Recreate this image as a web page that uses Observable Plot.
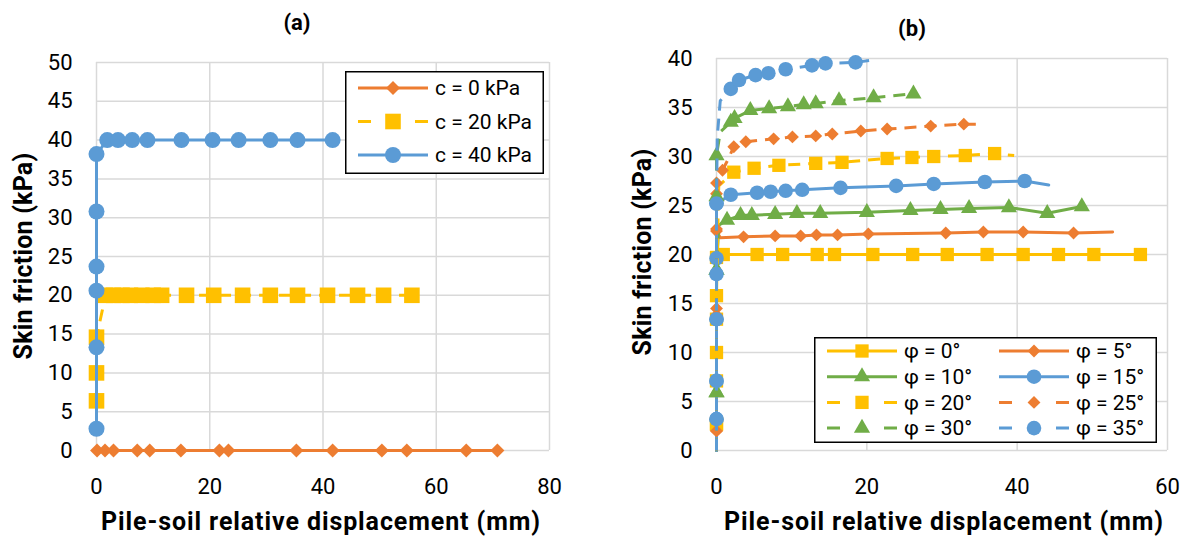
<!DOCTYPE html>
<html><head><meta charset="utf-8">
<script src="https://cdn.jsdelivr.net/npm/d3@7"></script>
<script src="https://cdn.jsdelivr.net/npm/@observablehq/plot@0.6"></script>
<style>
body{margin:0;background:#fff;}
#root{position:relative;width:1186px;height:537px;overflow:hidden;font-family:Roboto,'Liberation Sans',sans-serif;color:#000;}
.abs{position:absolute;}
.ctr{position:absolute;transform:translate(-50%,-50%);white-space:nowrap;}
.title{font-weight:bold;font-size:22px;}
.axt{font-weight:bold;font-size:25px;letter-spacing:0.9px;}
.ayt{font-weight:bold;font-size:25px;letter-spacing:0.2px;}
</style></head><body><div id="root"></div>
<script>
const FONT = "Roboto, 'Liberation Sans', sans-serif";

// ---------------- Panel (a) data ----------------
const aTitle = "(a)";
const aXTicks = [0, 20, 40, 60, 80];
const aYTicks = [0, 5, 10, 15, 20, 25, 30, 35, 40, 45, 50];
const aNames = ["c = 0 kPa", "c = 20 kPa", "c = 40 kPa"];
const aC0X = [0.1, 1.5, 3.0, 7.2, 9.4, 14.9, 21.7, 23.3, 35.3, 41.7, 50.4, 54.8, 65.3, 70.8];
const aC0Y = [0, 0, 0, 0, 0, 0, 0, 0, 0, 0, 0, 0, 0, 0];
const aC20X = [0, 0, 0, 1.6, 3.0, 4.5, 6.0, 8.0, 10.0, 11.5, 15.9, 20.7, 25.8, 30.7, 35.5, 40.8, 46.1, 50.7, 55.7];
const aC20Y = [6.4, 10.0, 14.6, 20, 20, 20, 20, 20, 20, 20, 20, 20, 20, 20, 20, 20, 20, 20, 20];
const aC40X = [0, 0, 0, 0, 0, 0, 1.9, 3.8, 6.3, 9.0, 15.0, 20.5, 25.1, 30.7, 35.5, 41.7];
const aC40Y = [2.8, 13.3, 20.6, 23.7, 30.8, 38.2, 40, 40, 40, 40, 40, 40, 40, 40, 40, 40];

// ---------------- Panel (b) data ----------------
const bTitle = "(b)";
const bXTicks = [0, 20, 40, 60];
const bYTicks = [0, 5, 10, 15, 20, 25, 30, 35, 40];
const bNames = ["φ = 0°", "φ = 5°", "φ = 10°", "φ = 15°", "φ = 20°", "φ = 25°", "φ = 30°", "φ = 35°"];
// m: 1 = point carries a marker, 0 = line vertex only
const bP0X = [0, 0, 0, 0, 0, 0.9, 5.4, 8.8, 13.4, 15.7, 20.8, 26.1, 30.7, 36.0, 40.8, 45.5, 50.2, 56.4];
const bP0Y = [0, 2.7, 7.1, 13.4, 19.7, 20, 20, 20, 20, 20, 20, 20, 20, 20, 20, 20, 20, 20];
const bP0M = [0, 1, 1, 1, 1, 1, 1, 1, 1, 1, 1, 1, 1, 1, 1, 1, 1, 1];
const bP5X = [0, 0, 0, 0, 0.5, 3.6, 7.8, 11.2, 13.3, 16.1, 20.2, 30.5, 35.5, 40.8, 47.5, 52.7];
const bP5Y = [0, 2.0, 14.5, 22.4, 21.7, 21.8, 21.9, 21.9, 22.0, 22.0, 22.1, 22.2, 22.3, 22.3, 22.2, 22.3];
const bP5M = [0, 1, 1, 1, 0, 1, 1, 1, 1, 1, 1, 1, 1, 1, 1, 0];
const bP10X = [0, 0, 0, 0.3, 1.4, 3.2, 4.7, 7.8, 10.7, 13.8, 20.0, 25.8, 29.8, 33.6, 38.9, 44.0, 48.6];
const bP10Y = [0, 5.9, 18.4, 23.0, 23.5, 24.0, 24.0, 24.1, 24.2, 24.2, 24.3, 24.5, 24.6, 24.7, 24.8, 24.2, 24.9];
const bP10M = [0, 1, 1, 0, 1, 1, 1, 1, 1, 1, 1, 1, 1, 1, 1, 1, 1];
const bP15X = [0, 0, 0, 0, 0, 0, 1.9, 5.4, 7.2, 9.2, 11.4, 16.5, 23.9, 28.9, 35.7, 41.0, 44.2];
const bP15Y = [0, 3.2, 7.1, 13.4, 19.6, 25.2, 26.1, 26.3, 26.4, 26.5, 26.6, 26.8, 27.0, 27.2, 27.4, 27.5, 27.1];
const bP15M = [0, 1, 1, 1, 1, 1, 1, 1, 1, 1, 1, 1, 1, 1, 1, 1, 0];
const bP20X = [0, 0, 0, 0, 0.3, 2.3, 5.0, 8.3, 13.2, 16.7, 22.7, 26.0, 28.9, 33.1, 37.0, 39.6];
const bP20Y = [0, 2.7, 10.0, 15.8, 27.0, 28.4, 28.8, 29.1, 29.3, 29.4, 29.8, 29.9, 30.0, 30.1, 30.3, 30.1];
const bP20M = [0, 1, 1, 1, 0, 1, 1, 1, 1, 1, 1, 1, 1, 1, 1, 0];
const bP25X = [0, 0, 0, 0, 0, 0, 0.8, 1.6, 2.3, 3.9, 7.6, 10.1, 13.2, 15.4, 19.2, 22.7, 28.5, 32.9, 34.5];
const bP25Y = [0, 2.0, 13.8, 22.6, 26.2, 27.3, 28.6, 29.8, 31.0, 31.5, 31.8, 32.0, 32.1, 32.3, 32.6, 32.8, 33.1, 33.3, 33.3];
const bP25M = [0, 1, 1, 1, 1, 1, 1, 0, 1, 1, 1, 1, 1, 1, 1, 1, 1, 1, 0];
const bP30X = [0, 0, 0, 0, 0, 0.5, 1.9, 2.4, 4.5, 7.0, 9.5, 11.6, 13.2, 16.3, 20.9, 26.2];
const bP30Y = [0, 5.9, 18.4, 25.9, 30.1, 32.5, 33.5, 33.9, 34.7, 34.9, 35.1, 35.3, 35.4, 35.7, 36.0, 36.4];
const bP30M = [0, 1, 1, 1, 1, 0, 1, 1, 1, 1, 1, 1, 1, 1, 1, 1];
const bP35X = [0, 0, 0, 0, 0, 0, 0.1, 0.5, 1.9, 3.0, 5.2, 6.9, 9.2, 12.7, 14.5, 18.5, 20.3];
const bP35Y = [0, 3.2, 7.1, 13.4, 18.0, 25.2, 32.0, 35.7, 36.9, 37.8, 38.3, 38.5, 38.9, 39.3, 39.5, 39.6, 39.8];
const bP35M = [0, 1, 1, 1, 1, 1, 0, 0, 1, 1, 1, 1, 1, 1, 1, 1, 0];

// ---------------- styles ----------------
const ORANGE = "#ED7D31", YELLOW = "#FFC000", BLUE = "#5B9BD5", GREEN = "#70AD47";
const DASH = "12,8";
const aStyles = [
  {color: ORANGE, dash: null, symbol: "diamond2", r: 6.3},
  {color: YELLOW, dash: DASH, symbol: "square", r: 8.8},
  {color: BLUE, dash: null, symbol: "circle", r: 8}
];
const bStyles = [
  {color: YELLOW, dash: null, symbol: "square", r: 7.5},
  {color: ORANGE, dash: null, symbol: "diamond2", r: 5.8},
  {color: GREEN, dash: null, symbol: "triangle", r: 6},
  {color: BLUE, dash: null, symbol: "circle", r: 7.3},
  {color: YELLOW, dash: DASH, symbol: "square", r: 7.5},
  {color: ORANGE, dash: DASH, symbol: "diamond2", r: 5.8},
  {color: GREEN, dash: DASH, symbol: "triangle", r: 6},
  {color: BLUE, dash: DASH, symbol: "circle", r: 7.3}
];

function rows(xs, ys, ms) { return xs.map((x, i) => ({x, y: ys[i], m: ms ? ms[i] : 1})); }
const aData = [rows(aC0X, aC0Y), rows(aC20X, aC20Y), rows(aC40X, aC40Y)];
const bData = [rows(bP0X, bP0Y, bP0M), rows(bP5X, bP5Y, bP5M), rows(bP10X, bP10Y, bP10M), rows(bP15X, bP15Y, bP15M),
               rows(bP20X, bP20Y, bP20M), rows(bP25X, bP25Y, bP25M), rows(bP30X, bP30Y, bP30M), rows(bP35X, bP35Y, bP35M)];

function seriesMarks(data, st, lw) {
  return [
    Plot.line(data, {x: "x", y: "y", stroke: st.color, strokeWidth: lw, strokeDasharray: st.dash || undefined, strokeLinejoin: "round", strokeLinecap: st.dash ? "butt" : "round"}),
    Plot.dot(data.filter(d => d.m), {x: "x", y: "y", symbol: st.symbol, r: st.r, fill: st.color, stroke: "none"})
  ];
}
const GRID = {stroke: "#d9d9d9", strokeOpacity: 1, strokeWidth: 1.5};
const TICKSTYLE = {fontFamily: FONT, fontSize: "22px", color: "#000", background: "transparent", overflow: "visible"};

const root = document.getElementById("root");

const plotA = Plot.plot({
  width: 593, height: 537, marginLeft: 96, marginRight: 44, marginTop: 62, marginBottom: 87,
  style: TICKSTYLE,
  x: {domain: [0, 80], ticks: aXTicks, tickSize: 0, tickPadding: 28, label: null},
  y: {domain: [0, 50], ticks: aYTicks, tickSize: 0, tickPadding: 24, label: null},
  marks: [
    Plot.ruleX(aXTicks, GRID),
    Plot.ruleY(aYTicks, GRID),
    ...aData.flatMap((d, i) => seriesMarks(d, aStyles[i], 3))
  ]
});
plotA.style.position = "absolute"; plotA.style.left = "0px"; plotA.style.top = "0px";
root.appendChild(plotA);

const plotB = Plot.plot({
  width: 593, height: 537, marginLeft: 123, marginRight: 19, marginTop: 58, marginBottom: 87,
  style: TICKSTYLE,
  x: {domain: [0, 60], ticks: bXTicks, tickSize: 0, tickPadding: 28, label: null},
  y: {domain: [0, 40], ticks: bYTicks, tickSize: 0, tickPadding: 24, label: null},
  marks: [
    Plot.ruleX(bXTicks, GRID),
    Plot.ruleY(bYTicks, GRID),
    ...bData.flatMap((d, i) => seriesMarks(d, bStyles[i], 3))
  ]
});
plotB.style.position = "absolute"; plotB.style.left = "593px"; plotB.style.top = "0px";
root.appendChild(plotB);

// ---------------- titles ----------------
function label(text, cls, x, y, rot) {
  const d = document.createElement("div");
  d.className = "ctr " + cls;
  d.textContent = text;
  d.style.left = x + "px"; d.style.top = y + "px";
  if (rot) d.style.transform = "translate(-50%,-50%) rotate(-90deg)";
  root.appendChild(d);
}
const xTitle = "Pile-soil relative displacement (mm)";
const yTitle = "Skin friction (kPa)";
label(aTitle, "title", 297, 22);
label(bTitle, "title", 912, 28);
label(xTitle, "axt", 321, 521);
label(xTitle, "axt", 944, 521);
label(yTitle, "ayt", 23, 256, true);
label(yTitle, "ayt", 642, 252, true);

// ---------------- legends ----------------
const SYM = {circle: d3.symbolCircle, square: d3.symbolSquare, diamond2: d3.symbolDiamond2, triangle: d3.symbolTriangle};
function legend(box, names, styles, lay) {
  const svg = d3.select(root).append("svg").attr("class", "abs")
    .style("left", box.left + "px").style("top", box.top + "px")
    .attr("width", box.w).attr("height", box.h);
  svg.append("rect").attr("x", 0.75).attr("y", 0.75).attr("width", box.w - 1.5).attr("height", box.h - 1.5)
    .attr("fill", "#fff").attr("stroke", "#000").attr("stroke-width", 1.5);
  names.forEach((name, i) => {
    const st = styles[i];
    const col = i % lay.cols, row = Math.floor(i / lay.cols);
    const ox = lay.x0 + col * lay.colW, oy = lay.y0 + row * lay.rowH;
    svg.append("line").attr("x1", ox).attr("x2", ox + 70).attr("y1", oy).attr("y2", oy)
      .attr("stroke", st.color).attr("stroke-width", 3)
      .attr("stroke-dasharray", st.dash ? "13,44,13" : null);
    svg.append("path").attr("d", d3.symbol(SYM[st.symbol], Math.PI * st.r * st.r)())
      .attr("transform", `translate(${ox + 35},${oy})`).attr("fill", st.color);
    svg.append("text").attr("x", ox + 77).attr("y", oy).attr("dy", "0.35em")
      .attr("font-family", FONT).attr("font-size", lay.fs).attr("fill", "#000").text(name);
  });
}
legend({left: 345, top: 71, w: 199, h: 103}, aNames, aStyles, {cols: 1, x0: 13, y0: 17, colW: 0, rowH: 33.5, fs: 21});
legend({left: 814, top: 337, w: 343, h: 106}, bNames, bStyles, {cols: 2, x0: 13, y0: 14, colW: 172, rowH: 25.7, fs: 21});
</script>
</body></html>
